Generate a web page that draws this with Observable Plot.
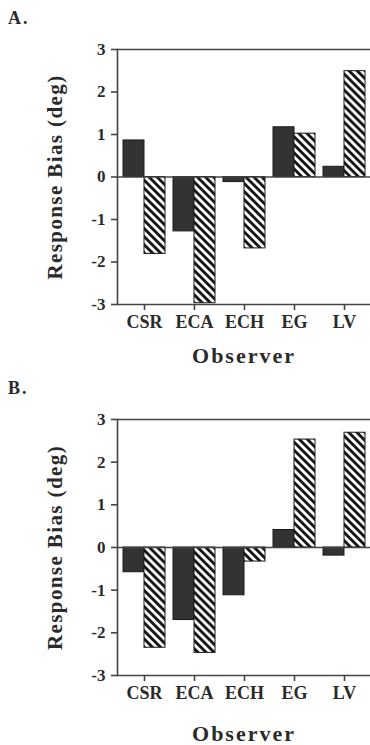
<!DOCTYPE html>
<html><head><meta charset="utf-8">
<script src="https://cdn.jsdelivr.net/npm/d3@7"></script>
<script src="https://cdn.jsdelivr.net/npm/@observablehq/plot@0.6"></script>
<style>
body{margin:0;background:#fff;width:370px;overflow:hidden;font-family:"Liberation Serif",serif;color:#2a2a2a}
.lab{height:30px;box-sizing:border-box;padding:9px 0 0 8px;font-size:18px;line-height:18px;font-weight:bold;letter-spacing:2px}
svg{display:block}
</style></head><body>
<svg width="0" height="0" style="position:absolute"><defs>
<pattern id="hatch" patternUnits="userSpaceOnUse" width="5.7" height="5.7" patternTransform="rotate(-45)">
<rect width="5.7" height="5.7" fill="#fff"/><rect width="2.9" height="5.7" fill="#161616"/>
</pattern>
</defs></svg>
<div class="lab">A.</div><div id="a"></div>
<div class="lab">B.</div><div id="b"></div>
<script>
const observers = ["CSR", "ECA", "ECH", "EG", "LV"];
const aSolid = [0.86, -1.28, -0.12, 1.17, 0.24];
const aHatched = [-1.81, -2.97, -1.68, 1.02, 2.49];
const bSolid = [-0.58, -1.70, -1.12, 0.41, -0.19];
const bHatched = [-2.35, -2.47, -0.33, 2.53, 2.69];
const yTicks = [-3, -2, -1, 0, 1, 2, 3];
const xLabel = "Observer";
const yLabel = "Response Bias (deg)";

function panel(solid, hatched, height, marginBottom, obsDy) {
  const rows = observers.map((o, i) => ({observer: o, solid: solid[i], hatched: hatched[i]}));
  const chart = Plot.plot({
    width: 370, height, marginTop: 19, marginBottom, marginLeft: 117, marginRight: 0,
    style: {fontFamily: '"Liberation Serif", serif', fontWeight: "bold", color: "#2a2a2a", background: "white", overflow: "visible"},
    x: {type: "band", domain: observers, paddingInner: 0.17, paddingOuter: 0.08, axis: null},
    y: {domain: [-3, 3], axis: null},
    marks: [
      Plot.barY(rows, {x: "observer", y: "solid", fill: "#333", stroke: "#1a1a1a", strokeWidth: 1, insetRight: 21}),
      Plot.barY(rows, {x: "observer", y: "hatched", fill: "url(#hatch)", stroke: "#1a1a1a", strokeWidth: 1, insetLeft: 21}),
      Plot.ruleY([3, 0, -3], {stroke: "#444", strokeWidth: 1.6}),
      Plot.frame({anchor: "left", stroke: "#444", strokeWidth: 1.6}),
      Plot.axisY(yTicks, {tickFormat: d => String(d), tickSize: 6, tickPadding: 6, fontSize: 17, stroke: "#444", strokeWidth: 1.6, label: null}),
      Plot.axisX({tickSize: 6, tickPadding: 5, fontSize: 18, stroke: "#444", strokeWidth: 1.6, label: null}),
      Plot.text([xLabel], {text: d => d, frameAnchor: "bottom", lineAnchor: "middle", dy: obsDy, fontSize: 22}),
      Plot.text([yLabel], {text: d => d, frameAnchor: "left", textAnchor: "middle", lineAnchor: "middle", rotate: -90, dx: -62, fontSize: 21})
    ]
  });
  chart.querySelectorAll("text").forEach(t => {
    if (t.textContent === xLabel) t.setAttribute("letter-spacing", "2");
    if (t.textContent === yLabel) t.setAttribute("letter-spacing", "1.4");
  });
  return chart;
}
document.getElementById("a").append(panel(aSolid, aHatched, 340, 66, 51));
document.getElementById("b").append(panel(bSolid, bHatched, 345, 70, 58));
</script>
</body></html>
